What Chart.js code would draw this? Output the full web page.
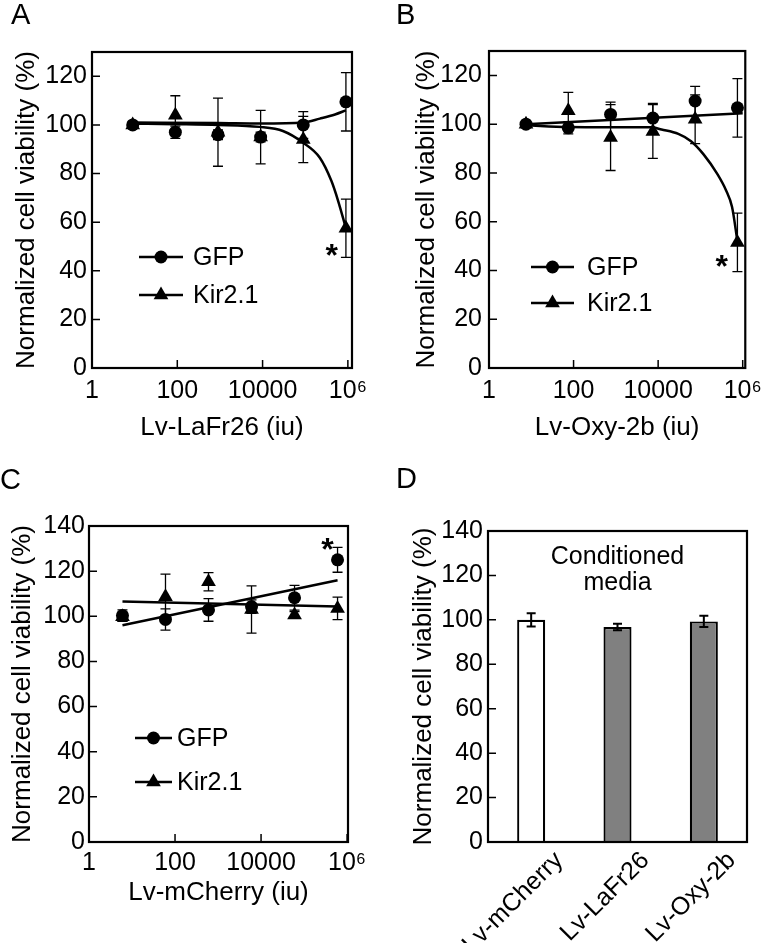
<!DOCTYPE html>
<html><head><meta charset="utf-8">
<script src="https://cdn.jsdelivr.net/npm/chart.js@4/dist/chart.umd.min.js"></script>
<style>
html,body{margin:0;padding:0;background:#fff;}
#wrap{position:relative;width:770px;height:943px;background:#fff;}
canvas{position:absolute;}
</style></head><body>
<div id="wrap">
<canvas id="cA" width="385" height="460" style="left:0;top:0"></canvas>
<canvas id="cB" width="385" height="460" style="left:385px;top:0"></canvas>
<canvas id="cC" width="385" height="483" style="left:0;top:460px"></canvas>
<canvas id="cD" width="385" height="483" style="left:385px;top:460px"></canvas>
</div>
<script>
const FONT = "'Liberation Sans', Arial, Helvetica, sans-serif";

// ---- shared axis ticks ----
const xTickValues = [1, 100, 10000, 1000000];
const xTickLabels = ['1', '100', '10000', '10\u2076'];
const yTicksAB = [0, 20, 40, 60, 80, 100, 120];
const yTicksCD = [0, 20, 40, 60, 80, 100, 120, 140];
const seriesNames = ['GFP', 'Kir2.1'];
const yTitle = 'Normalized cell viability (%)';

// ---- Panel A: Lv-LaFr26 ----
const doseA = [9, 90, 900, 9000, 90000, 900000];
const gfpA = [100, 97, 96, 95, 100, 109.5];
const gfpAErr = [1, 2.5, 2, 2, 5.5, 12];
const kirA = [100, 104, 97, 95, 94, 57.5];
const kirAErr = [1, 8, 14, 11, 9.5, 12];
const fitGfpAX = [9, 900, 9000, 90000, 220000, 500000, 900000];
const fitGfpAY = [101, 100.8, 100.6, 101, 102.6, 104.3, 106];
const fitKirAX = [9, 90, 900, 8500, 30000, 89000, 220000, 410000, 590000, 900000];
const fitKirAY = [100.5, 100.3, 100, 99.2, 97.5, 92.7, 86.5, 77, 68.8, 57.5];

// ---- Panel B: Lv-Oxy-2b ----
const doseB = [7.5, 75, 750, 7500, 75000, 750000];
const gfpB = [100, 98.5, 104, 102.5, 109.5, 106.7];
const gfpBErr = [1, 2.5, 5, 6, 6, 12];
const kirB = [100, 105.5, 94.5, 97, 102, 51.5];
const kirBErr = [1, 7.5, 13.5, 11, 10, 12];
const fitGfpBX = [7.5, 1000000];
const fitGfpBY = [100, 104.5];
const fitKirBX = [7.5, 75, 750, 7000, 12000, 30000, 60000, 120000, 250000, 400000, 560000, 750000];
const fitKirBY = [99.5, 98.8, 98.7, 98.7, 97.8, 96, 93, 87.5, 79.6, 73, 66, 52];

// ---- Panel C: Lv-mCherry ----
const doseC = [6, 60, 600, 6000, 60000, 600000];
const gfpC = [100.3, 98.6, 102.8, 104.3, 108.2, 125];
const gfpCErr = [2.5, 4.7, 5, 3, 5.5, 5.5];
const kirC = [99.8, 108.7, 115.3, 103, 100.6, 103.5];
const kirCErr = [2, 10, 4, 10.5, 1.5, 5];
const fitGfpCX = [6, 600000];
const fitGfpCY = [96, 116];
const fitKirCX = [6, 600000];
const fitKirCY = [106.5, 104.3];

// ---- Panel D: conditioned media ----
const barCategories = ['Lv-mCherry', 'Lv-LaFr26', 'Lv-Oxy-2b'];
const barValues = [100, 96.8, 99.3];
const barErrors = [3, 1.5, 2.5];
const barColors = ['#ffffff', '#808080', '#808080'];

function zip(xs, ys) { return xs.map((x, i) => ({x: x, y: ys[i]})); }

function drawMarker(ctx, style, x, y, r) {
  ctx.beginPath();
  if (style === 'triangle') {
    let a = 0;
    ctx.moveTo(x + Math.sin(a) * r, y - Math.cos(a) * r);
    a += 2 * Math.PI / 3;
    ctx.lineTo(x + Math.sin(a) * r, y - Math.cos(a) * r);
    a += 2 * Math.PI / 3;
    ctx.lineTo(x + Math.sin(a) * r, y - Math.cos(a) * r);
    ctx.closePath();
  } else {
    ctx.arc(x, y, r, 0, Math.PI * 2);
  }
  ctx.fill();
}

const decor = {
  id: 'decor',
  beforeDatasetsDraw(chart, args, o) { if (!o.errorsOnTop) drawErrors(chart, o); },
  afterDatasetsDraw(chart, args, o) { if (o.errorsOnTop) drawErrors(chart, o); },
  afterDraw(chart, args, o) {
    const ctx = chart.ctx, a = chart.chartArea;
    const xs = chart.scales.x, ys = chart.scales.y;
    ctx.save();
    ctx.strokeStyle = '#000';
    // inward tick marks
    ctx.lineWidth = 1.5;
    ctx.beginPath();
    if (o.xTicks) {
      xs.ticks.forEach(t => {
        const px = xs.getPixelForValue(t.value);
        ctx.moveTo(px, a.bottom); ctx.lineTo(px, a.bottom - 8);
      });
    }
    ys.ticks.forEach(t => {
      const py = ys.getPixelForValue(t.value);
      ctx.moveTo(a.left, py); ctx.lineTo(a.left + 8, py);
    });
    ctx.stroke();
    // frame
    ctx.lineWidth = 2.2;
    ctx.strokeRect(a.left, a.top, a.right - a.left, a.bottom - a.top);
    // legend
    if (o.legend) {
      const L = o.legend;
      ctx.fillStyle = '#000';
      ctx.font = '25px ' + FONT;
      ctx.textBaseline = 'middle';
      ctx.textAlign = 'left';
      chart.data.datasets.filter(d => d.legendStyle).forEach((d, i) => {
        const y = a.top + L.y0 + i * L.dy;
        ctx.lineWidth = 2.5;
        ctx.beginPath();
        ctx.moveTo(a.left + L.x0, y); ctx.lineTo(a.left + L.x1, y);
        ctx.stroke();
        drawMarker(ctx, d.legendStyle, a.left + (L.x0 + L.x1) / 2, y, d.legendStyle === 'triangle' ? 8.5 : 6.5);
        ctx.fillText(d.label, a.left + L.tx, y + 1);
      });
    }
    // asterisk annotation
    if (o.star) {
      const size = 32;
      ctx.font = 'bold ' + size + 'px ' + FONT;
      ctx.textAlign = 'center';
      ctx.textBaseline = 'alphabetic';
      ctx.fillStyle = '#000';
      ctx.fillText('*', xs.getPixelForValue(o.star.x), ys.getPixelForValue(o.star.y) + 0.57 * size);
    }
    // extra text
    if (o.texts) {
      ctx.font = '25px ' + FONT;
      ctx.textAlign = 'center';
      ctx.textBaseline = 'middle';
      ctx.fillStyle = '#000';
      o.texts.forEach(t => ctx.fillText(t.text, (a.left + a.right) / 2, a.top + t.dy));
    }
    // panel letter
    if (o.letter) {
      ctx.font = '29px ' + FONT;
      ctx.textAlign = 'left';
      ctx.textBaseline = 'alphabetic';
      ctx.fillStyle = '#000';
      ctx.fillText(o.letter.text, o.letter.x, o.letter.y);
    }
    ctx.restore();
  }
};

function drawErrors(chart, o) {
  const ctx = chart.ctx, ys = chart.scales.y;
  ctx.save();
  ctx.strokeStyle = '#000';
  ctx.lineWidth = o.errWidth || 1.3;
  const cap = o.cap || 5;
  chart.data.datasets.forEach((ds, i) => {
    if (!ds.errors) return;
    const meta = chart.getDatasetMeta(i);
    meta.data.forEach((el, j) => {
      const v = ds.data[j];
      const val = (typeof v === 'object') ? v.y : v;
      const e = ds.errors[j];
      if (!e) return;
      const x = el.x;
      const y1 = ys.getPixelForValue(val + e), y2 = ys.getPixelForValue(val - e);
      ctx.beginPath();
      ctx.moveTo(x, y1); ctx.lineTo(x, y2);
      ctx.moveTo(x - cap, y1); ctx.lineTo(x + cap, y1);
      ctx.moveTo(x - cap, y2); ctx.lineTo(x + cap, y2);
      ctx.stroke();
    });
  });
  ctx.restore();
}

function scatterPanel(id, p) {
  const cv = document.getElementById(id);
  const W = cv.width, H = cv.height;
  const yTicks = p.yTicks;
  new Chart(cv.getContext('2d'), {
    type: 'scatter',
    data: { datasets: [
      { label: seriesNames[0], legendStyle: 'circle', data: zip(p.dose, p.gfp), errors: p.gfpErr,
        pointStyle: 'circle', pointRadius: 6.5, backgroundColor: '#000', borderColor: '#000', borderWidth: 0, showLine: false, order: 0 },
      { label: seriesNames[1], legendStyle: 'triangle', data: zip(p.dose, p.kir), errors: p.kirErr,
        pointStyle: 'triangle', pointRadius: 8.5, backgroundColor: '#000', borderColor: '#000', borderWidth: 0, showLine: false, order: 0 },
      { label: seriesNames[0] + ' fit', data: zip(p.fitGX, p.fitGY), showLine: true, borderColor: '#000', borderWidth: 2.5,
        pointRadius: 0, cubicInterpolationMode: 'monotone', order: 1 },
      { label: seriesNames[1] + ' fit', data: zip(p.fitKX, p.fitKY), showLine: true, borderColor: '#000', borderWidth: 2.5,
        pointRadius: 0, cubicInterpolationMode: 'monotone', order: 1 }
    ]},
    options: {
      responsive: false, animation: false, devicePixelRatio: 1,
      layout: { padding: { left: 0, top: p.area.top, right: W - p.area.right, bottom: 0 } },
      plugins: {
        legend: { display: false }, tooltip: { enabled: false },
        decor: { xTicks: true, legend: p.legend, star: p.star, letter: p.letter, cap: 5 }
      },
      scales: {
        x: {
          type: 'logarithmic', min: 1, max: p.xMax,
          grid: { display: false, drawTicks: false }, border: { display: false },
          afterBuildTicks: s => { s.ticks = xTickValues.map(v => ({ value: v })); },
          afterFit: s => { s.height = H - p.area.bottom; },
          ticks: { callback: (v, i) => xTickLabels[i], font: { family: FONT, size: 25 }, color: '#000',
                   padding: p.xPad, maxRotation: 0, autoSkip: false },
          title: { display: true, text: p.xTitle, font: { family: FONT, size: 26 }, color: '#000',
                   padding: { top: 0, bottom: p.xTitlePad } }
        },
        y: {
          min: 0, max: p.yMax,
          grid: { display: false, drawTicks: false }, border: { display: false },
          afterBuildTicks: s => { s.ticks = yTicks.map(v => ({ value: v })); },
          afterFit: s => { s.width = p.area.left; },
          ticks: { font: { family: FONT, size: 25 }, color: '#000', padding: p.yPad },
          title: { display: true, text: yTitle, font: { family: FONT, size: 26 }, color: '#000',
                   padding: { top: p.yTitlePad, bottom: 0 } }
        }
      }
    },
    plugins: [decor]
  });
}

scatterPanel('cA', {
  dose: doseA, gfp: gfpA, gfpErr: gfpAErr, kir: kirA, kirErr: kirAErr,
  fitGX: fitGfpAX, fitGY: fitGfpAY, fitKX: fitKirAX, fitKY: fitKirAY,
  area: { left: 92, right: 352, top: 52, bottom: 368 }, xMax: 1250000, yMax: 130, yTicks: yTicksAB,
  xTitle: 'Lv-LaFr26 (iu)', xPad: 8, xTitlePad: 17, yPad: 5, yTitlePad: 11,
  legend: { x0: 47, x1: 91, tx: 101, y0: 205, dy: 38 },
  star: { x: 420000, y: 49.5 }, letter: { text: 'A', x: 11, y: 24 }
});
scatterPanel('cB', {
  dose: doseB, gfp: gfpB, gfpErr: gfpBErr, kir: kirB, kirErr: kirBErr,
  fitGX: fitGfpBX, fitGY: fitGfpBY, fitKX: fitKirBX, fitKY: fitKirBY,
  area: { left: 104, right: 361, top: 51, bottom: 368 }, xMax: 1150000, yMax: 130, yTicks: yTicksAB,
  xTitle: 'Lv-Oxy-2b (iu)', xPad: 8, xTitlePad: 17, yPad: 7, yTitlePad: 26,
  legend: { x0: 42, x1: 85, tx: 98, y0: 216, dy: 36 },
  star: { x: 320000, y: 45 }, letter: { text: 'B', x: 11, y: 24 }
});
scatterPanel('cC', {
  dose: doseC, gfp: gfpC, gfpErr: gfpCErr, kir: kirC, kirErr: kirCErr,
  fitGX: fitGfpCX, fitGY: fitGfpCY, fitKX: fitKirCX, fitKY: fitKirCY,
  area: { left: 89, right: 348, top: 66, bottom: 382 }, xMax: 1050000, yMax: 140, yTicks: yTicksCD,
  xTitle: 'Lv-mCherry (iu)', xPad: 6, xTitlePad: 35, yPad: 4, yTitlePad: 7,
  legend: { x0: 46, x1: 83, tx: 88, y0: 212, dy: 44 },
  star: { x: 350000, y: 133 }, letter: { text: 'C', x: 0, y: 29 }
});

(function () {
  const cv = document.getElementById('cD');
  const W = cv.width, H = cv.height;
  const area = { left: 103, right: 362, top: 71, bottom: 382 };
  new Chart(cv.getContext('2d'), {
    type: 'bar',
    data: { labels: barCategories, datasets: [{
      label: 'Conditioned media', data: barValues, errors: barErrors,
      backgroundColor: barColors, borderColor: '#000', borderWidth: 2.2,
      barPercentage: 0.325, categoryPercentage: 1
    }]},
    options: {
      responsive: false, animation: false, devicePixelRatio: 1,
      layout: { padding: { left: 0, top: area.top, right: W - area.right, bottom: 0 } },
      plugins: {
        legend: { display: false }, tooltip: { enabled: false },
        decor: { xTicks: false, errorsOnTop: true, errWidth: 2, cap: 4.5,
                 texts: [{ text: 'Conditioned', dy: 26 }, { text: 'media', dy: 52 }],
                 letter: { text: 'D', x: 11, y: 28 } }
      },
      scales: {
        x: {
          grid: { display: false, drawTicks: false }, border: { display: false },
          afterFit: s => { s.height = H - area.bottom; },
          ticks: { font: { family: FONT, size: 25 }, color: '#000', minRotation: 45, maxRotation: 45,
                   labelOffset: 28, padding: 4, autoSkip: false }
        },
        y: {
          min: 0, max: 140,
          grid: { display: false, drawTicks: false }, border: { display: false },
          afterBuildTicks: s => { s.ticks = yTicksCD.map(v => ({ value: v })); },
          afterFit: s => { s.width = area.left; },
          ticks: { font: { family: FONT, size: 25 }, color: '#000', padding: 5 },
          title: { display: true, text: yTitle, font: { family: FONT, size: 26 }, color: '#000',
                   padding: { top: 23, bottom: 0 } }
        }
      }
    },
    plugins: [decor]
  });
})();
</script>
</body></html>
